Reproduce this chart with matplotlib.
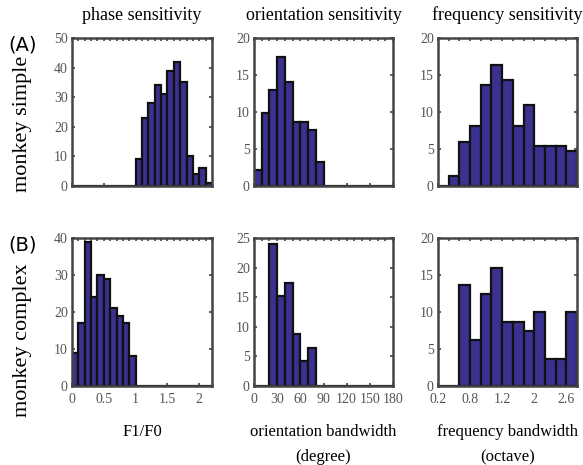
import matplotlib as mpl

mpl.use('agg')

import matplotlib.pyplot as plt

plt.rc('font', family='Liberation Serif')

# histogram counts
phase_start, phase_bin = 0.0, 0.1
phase_simple = [0, 0, 0, 0, 0, 0, 0, 0, 0, 0,
                9, 23, 28, 34, 31, 39, 42, 35, 10, 4, 6, 1]
phase_complex = [9, 17, 39, 24, 30, 29, 21, 19, 17, 8,
                 0, 0, 0, 0, 0, 0, 0, 0, 0, 0, 0, 0]

orient_start, orient_bin = 0, 10
orient_simple = [2.2, 9.8, 13.0, 17.4, 14.1, 8.7, 8.7, 7.6, 3.3,
                 0, 0, 0, 0, 0, 0, 0, 0, 0]
orient_complex = [0, 0, 24.0, 15.2, 17.4, 8.7, 4.3, 6.5,
                  0, 0, 0, 0, 0, 0, 0, 0, 0, 0]

freq_start, freq_bin = 0.2, 0.2
freq_simple = [0, 1.3, 6.0, 8.1, 13.6, 16.3, 14.3, 8.1, 10.9, 5.4, 5.4, 5.4, 4.7]
freq_complex = [0, 0, 13.6, 6.2, 12.4, 16.0, 8.7, 8.7, 7.5, 10.0, 3.7, 3.7, 10.0]

phase_ticks = [0, 0.5, 1, 1.5, 2]
phase_labels = ['0', '0.5', '1', '1.5', '2']
orient_ticks = [0, 30, 60, 90, 120, 150, 180]
orient_labels = ['0', '30', '60', '90', '120', '150', '180']
freq_ticks = [0.2, 0.8, 1.4, 2.0, 2.6]
freq_labels = ['0.2', '0.8', '1.2', '2', '2.6']

titles = ['phase sensitivity', 'orientation sensitivity', 'frequency sensitivity']
row_names = ['monkey simple', 'monkey complex']
xlabels = ['F1/F0', 'orientation bandwidth\n(degree)', 'frequency bandwidth\n(octave)']

W, H = 583, 465
fig = plt.figure(figsize=(W / 100, H / 100), dpi=100)

bar_color = '#3a3190'
frame_color = '#444444'
tick_color = '#555555'

col_left = [72, 254, 438]
col_width = [140, 139, 139]
row_top = [38, 238]
ax_h = 148

panels = [
    [(phase_simple, phase_start, phase_bin, (0, 2.2), 50, 10, phase_ticks, phase_labels),
     (orient_simple, orient_start, orient_bin, (0, 180), 20, 5, orient_ticks, orient_labels),
     (freq_simple, freq_start, freq_bin, (0.2, 2.8), 20, 5, freq_ticks, freq_labels)],
    [(phase_complex, phase_start, phase_bin, (0, 2.2), 40, 10, phase_ticks, phase_labels),
     (orient_complex, orient_start, orient_bin, (0, 180), 25, 5, orient_ticks, orient_labels),
     (freq_complex, freq_start, freq_bin, (0.2, 2.8), 20, 5, freq_ticks, freq_labels)],
]

for r in range(2):
    for c in range(3):
        counts, start, width, xlim, ymax, ystep, xt, xtl = panels[r][c]
        ax = fig.add_axes([col_left[c] / W, 1 - (row_top[r] + ax_h) / H,
                           col_width[c] / W, ax_h / H])
        lefts = [start + i * width for i in range(len(counts))]
        ax.bar(lefts, counts, width=width, align='edge', color=bar_color,
               edgecolor='#111111', linewidth=1.6, zorder=2)
        ax.set_xlim(xlim)
        ax.set_ylim(0, ymax)
        ax.set_yticks(range(0, ymax + 1, ystep))
        ax.set_xticks(xt)
        ax.set_xticks(lefts + [start + len(counts) * width], minor=True)
        if r == 1:
            ax.set_xticklabels(xtl)
        else:
            ax.set_xticklabels([])
        for s in ax.spines.values():
            s.set_color(frame_color)
            s.set_linewidth(1.8)
        ax.tick_params(direction='in', which='both', top=True, right=True,
                       color=frame_color, labelcolor=tick_color, labelsize=10,
                       length=2.5, width=1.2, pad=3)
        ax.tick_params(axis='x', which='major', pad=5)
        ax.tick_params(which='minor', length=2, bottom=False)
        if r == 0:
            ax.set_title(titles[c], fontsize=13, pad=13)
        else:
            ax.set_xlabel(xlabels[c], fontsize=12, labelpad=13, linespacing=1.75,
                          va='top')

fig.text(23 / W, 1 - 124 / H, row_names[0], rotation=90, fontsize=16,
         ha='center', va='center')
fig.text(23 / W, 1 - 340 / H, row_names[1], rotation=90, fontsize=16,
         ha='center', va='center')
fig.text(8 / W, 1 - 45 / H, '(A)', family='DejaVu Sans', fontsize=14,
         ha='left', va='center')
fig.text(8 / W, 1 - 245 / H, '(B)', family='DejaVu Sans', fontsize=14,
         ha='left', va='center')

fig.savefig('out.png', dpi=100)
